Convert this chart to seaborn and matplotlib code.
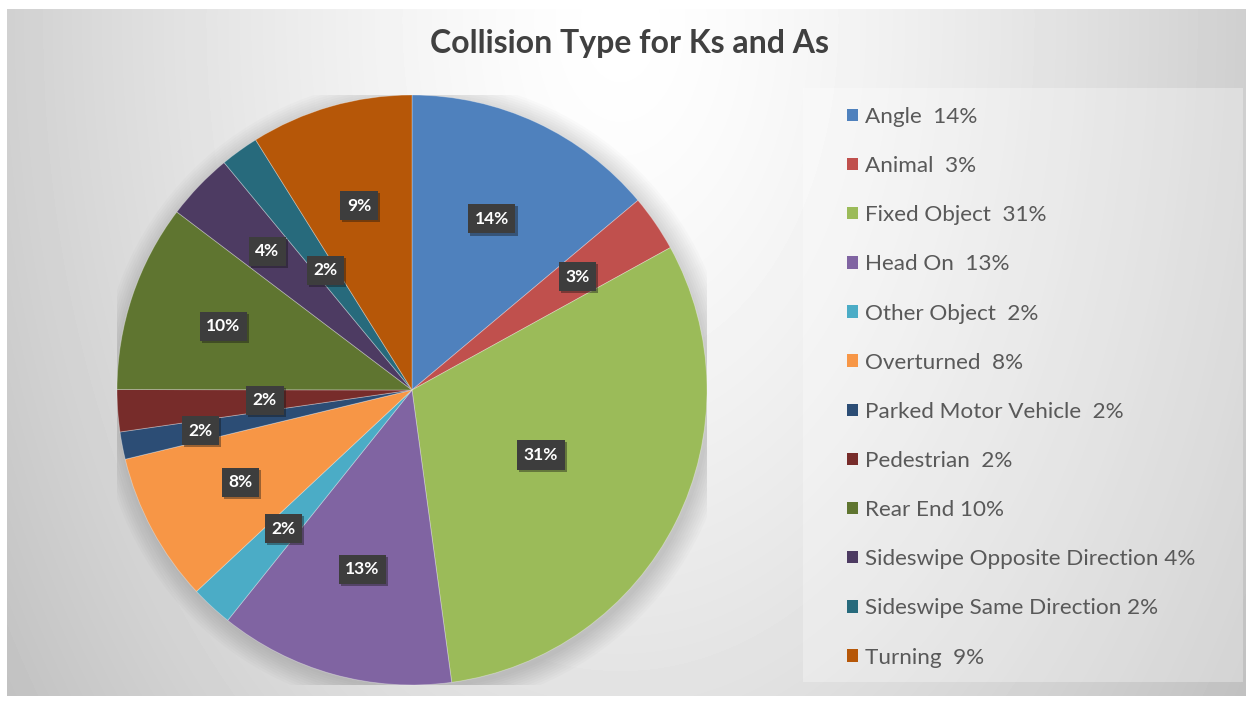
import numpy as np
import matplotlib
matplotlib.use("Agg")
import matplotlib.pyplot as plt
import seaborn as sns
from matplotlib.patches import Rectangle, Patch, Circle
import matplotlib.patheffects as pe

categories = ["Angle", "Animal", "Fixed Object", "Head On", "Other Object",
              "Overturned", "Parked Motor Vehicle", "Pedestrian", "Rear End",
              "Sideswipe Opposite Direction", "Sideswipe Same Direction", "Turning"]
shares = [13.9, 3.1, 30.9, 12.9, 2.3, 8.2, 1.5, 2.3, 10.3, 3.7, 2.1, 8.9]
pct_labels = ["14%", "3%", "31%", "13%", "2%", "8%", "2%", "2%", "10%", "4%", "2%", "9%"]
legend_labels = ["Angle  14%", "Animal  3%", "Fixed Object  31%", "Head On  13%",
                 "Other Object  2%", "Overturned  8%", "Parked Motor Vehicle  2%",
                 "Pedestrian  2%", "Rear End 10%", "Sideswipe Opposite Direction 4%",
                 "Sideswipe Same Direction 2%", "Turning  9%"]
colors = ["#4F81BD", "#C0504D", "#9BBB59", "#8064A2", "#4BACC6", "#F79646",
          "#2C4D75", "#772C2A", "#5F7530", "#4D3B62", "#276A7C", "#B65708"]
label_radius = [0.64, 0.68, 0.49, 0.63, 0.64, 0.66, 0.73, 0.50, 0.675, 0.68, 0.50, 0.65]

sns.set_theme(style="white")
plt.rcParams['font.family'] = ['Lato', 'DejaVu Sans']

W, H = 1250, 702
fig = plt.figure(figsize=(W / 100, H / 100), dpi=100)
fig.patch.set_facecolor("white")

# background gradient (chart area)
bg = fig.add_axes([0, 0, 1, 1], zorder=-10)
yy, xx = np.mgrid[0:H, 0:W]
d = np.sqrt(((xx - 620) / 700.0) ** 2 + ((yy - 20) / 1100.0) ** 2)
val = 1 - 0.22 * np.clip(d, 0, 1.2) ** 1.4
inside = (xx >= 7) & (xx <= 1245) & (yy >= 9) & (yy <= 695)
img = np.where(inside, val, 1.0)
bg.imshow(img, cmap="gray", vmin=0, vmax=1, extent=(0, W, H, 0), interpolation="bilinear")
bg.add_patch(Rectangle((803, 88), 440, 594, facecolor="white", alpha=0.3, edgecolor="none"))
bg.set_xlim(0, W)
bg.set_ylim(H, 0)
bg.axis("off")

# pie
cx, cy, R = 412, 390, 295
ax = fig.add_axes([(cx - R) / W, (H - cy - R) / H, 2 * R / W, 2 * R / H])
for i in range(10):
    ax.add_patch(Circle((0.012, -0.015), 1.0 + 0.008 * i, color="black", alpha=0.015, zorder=0, lw=0))
wedges, _ = ax.pie(shares, colors=colors, startangle=90, counterclock=False, radius=1,
                   wedgeprops=dict(linewidth=0.6, edgecolor=(1, 1, 1, 0.35)))
for w in wedges:
    w.set_zorder(2)
ax.set_xlim(-1, 1)
ax.set_ylim(-1, 1)
ax.set_aspect("equal")
ax.axis("off")

total = sum(shares)
cum = np.cumsum([0] + shares)
for i, lab in enumerate(pct_labels):
    mid = (cum[i] + cum[i + 1]) / 2 / total
    theta = np.deg2rad(90 - 360 * mid)
    r = label_radius[i]
    t = ax.text(r * np.cos(theta), r * np.sin(theta), lab, ha="center", va="center",
                color="white", fontsize=12.5, fontweight="bold", zorder=5,
                bbox=dict(boxstyle="square,pad=0.38", facecolor="#3d3d3d", edgecolor="none"))
    t.get_bbox_patch().set_path_effects([pe.SimplePatchShadow(offset=(1.5, -1.5), alpha=0.4), pe.Normal()])

fig.text(630 / W, 1 - 44 / H, "Collision Type for Ks and As", ha="center", va="center",
         fontsize=23, fontweight="bold", color="#404040")

handles = [Patch(facecolor=c, edgecolor="none") for c in colors]
fig.legend(handles, legend_labels, loc="upper left", bbox_to_anchor=(847 / W, 1 - 107 / H),
           frameon=False, fontsize=16.2, handlelength=0.47, handleheight=0.47,
           handletextpad=0.33, labelspacing=1.295, borderaxespad=0, borderpad=0,
           labelcolor="#595959")

fig.savefig("out.png", dpi=100)
